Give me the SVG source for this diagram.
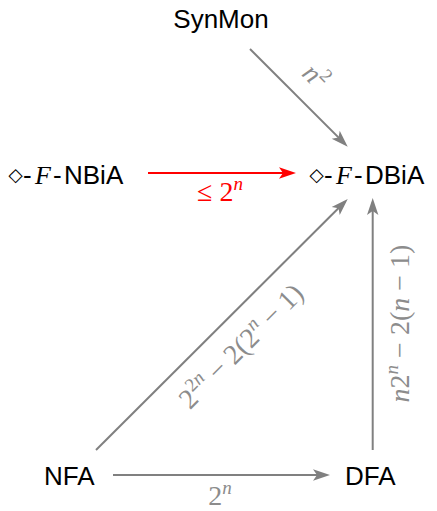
<svg xmlns="http://www.w3.org/2000/svg" width="437" height="511" viewBox="0 0 437 511">
<style>
.nd{font-family:"Liberation Sans",Arial,sans-serif;font-size:26px;fill:#000}
.it{font-family:"Liberation Serif","Times New Roman",serif;font-style:italic}
.dm{font-family:"DejaVu Sans",sans-serif;font-size:18.5px}
.m{font-family:"Liberation Serif","Times New Roman",serif;font-size:28px;fill:#8c8c8c}
.r{fill:#ff0000}
.s{font-size:19px}
.i{font-style:italic}
.e{fill:none;stroke:#808080;stroke-width:2}
.er{fill:none;stroke:#ff0000;stroke-width:2}
</style>
<defs>
<marker id="ag" markerWidth="20" markerHeight="14" refX="14" refY="7" orient="auto" markerUnits="userSpaceOnUse" viewBox="0 0 20 14" overflow="visible">
<path d="M18,7 L1,1.3 L5,7 L1,12.7 Z" fill="#808080"/>
</marker>
<marker id="ar" markerWidth="20" markerHeight="14" refX="14" refY="7" orient="auto" markerUnits="userSpaceOnUse" viewBox="0 0 20 14" overflow="visible">
<path d="M18,7 L1,1.3 L5,7 L1,12.7 Z" fill="#ff0000"/>
</marker>
</defs>
<g id="connectors">
<line class="e" x1="250" y1="49" x2="344.9" y2="143.9" marker-end="url(#ag)"/>
<line class="er" x1="148" y1="173" x2="292" y2="173" marker-end="url(#ar)"/>
<line class="e" x1="96" y1="450" x2="344.9" y2="201.8" marker-end="url(#ag)"/>
<line class="e" x1="372.7" y1="450" x2="372.7" y2="202" marker-end="url(#ag)"/>
<line class="e" x1="113" y1="475" x2="326" y2="475" marker-end="url(#ag)"/>
<text class="m" transform="translate(314,78) rotate(45)" text-anchor="middle" y="7"><tspan class="i">n</tspan><tspan class="s" dy="-11">2</tspan></text>
<text class="m r" x="220" y="201" text-anchor="middle">≤ 2<tspan class="s i" dy="-11">n</tspan></text>
<text class="m" transform="translate(242,347) rotate(-45)" text-anchor="middle" y="8">2<tspan class="s" dy="-11">2<tspan class="i">n</tspan></tspan><tspan dy="11"> − 2(2</tspan><tspan class="s i" dy="-11">n</tspan><tspan dy="11"> − 1)</tspan></text>
<text class="m" transform="translate(409,323.5) rotate(-90)" text-anchor="middle"><tspan class="i">n</tspan>2<tspan class="s i" dy="-11">n</tspan><tspan dy="11"> − 2(</tspan><tspan class="i">n</tspan> − 1)</text>
<text class="m" x="220" y="505" text-anchor="middle">2<tspan class="s i" dy="-11">n</tspan></text>
</g>
<g id="synmon"><text class="nd" x="221" y="28" text-anchor="middle">SynMon</text></g>
<g id="nbia"><text class="nd" y="184"><tspan class="dm" x="8.5" y="181">◇</tspan><tspan x="23" y="184">-</tspan><tspan class="it" x="35">F</tspan><tspan x="53">-</tspan><tspan x="64">NBiA</tspan></text></g>
<g id="dbia"><text class="nd" y="184"><tspan class="dm" x="309.5" y="181">◇</tspan><tspan x="324" y="184">-</tspan><tspan class="it" x="336">F</tspan><tspan x="354">-</tspan><tspan x="365">DBiA</tspan></text></g>
<g id="nfa"><text class="nd" x="44" y="485">NFA</text></g>
<g id="dfa"><text class="nd" x="345" y="485">DFA</text></g>
</svg>
